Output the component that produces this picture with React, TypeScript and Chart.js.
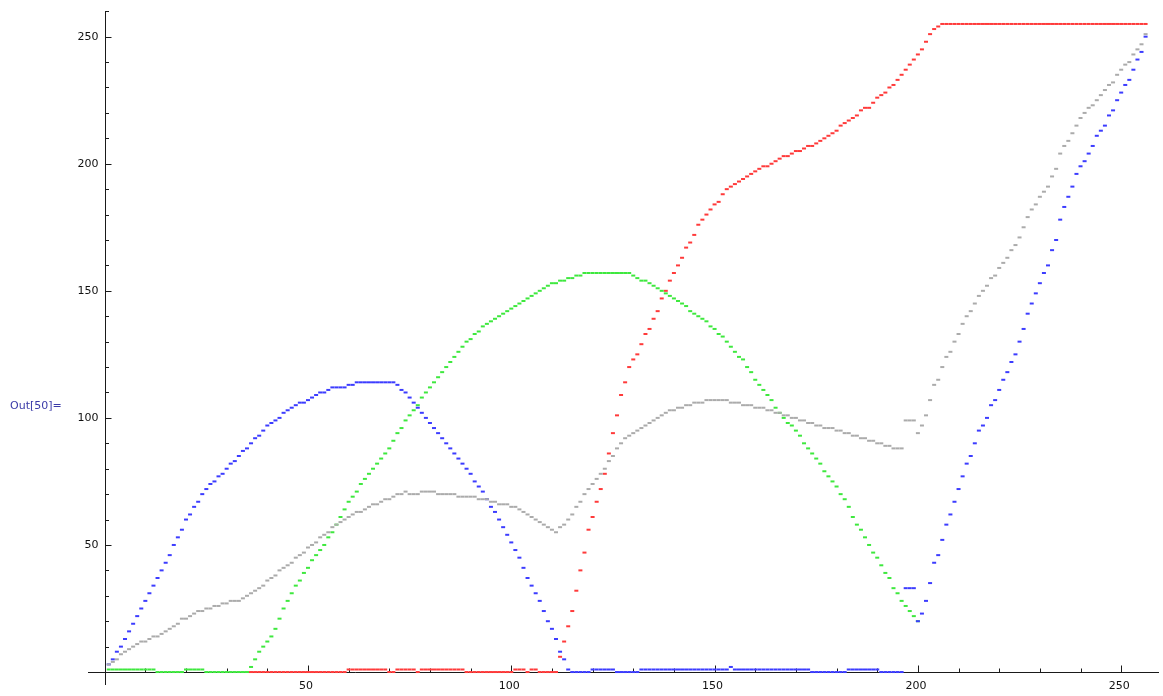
import React, { useEffect, useRef } from "react";
import { Chart, registerables } from "chart.js";

Chart.register(...registerables);

// sample index (1..256)
const indices: number[] = Array.from({ length: 256 }, (_, i) => i + 1);

const blueValues: number[] = [
  3, 5, 8, 10, 13, 16, 19, 22, 25, 28,
  31, 34, 37, 40, 43, 46, 50, 53, 56, 60,
  62, 65, 67, 70, 72, 74, 75, 77, 78, 80,
  82, 83, 85, 87, 88, 90, 92, 93, 95, 97,
  98, 99, 100, 102, 103, 104, 105, 106, 106, 107,
  108, 109, 110, 110, 111, 112, 112, 112, 112, 113,
  113, 114, 114, 114, 114, 114, 114, 114, 114, 114,
  114, 113, 111, 110, 108, 106, 104, 102, 100, 98,
  96, 94, 92, 90, 88, 86, 84, 82, 80, 78,
  75, 73, 71, 68, 65, 63, 60, 57, 54, 51,
  48, 45, 41, 37, 34, 31, 28, 24, 20, 17,
  13, 8, 5, 1, 0, 0, 0, 0, 0, 1,
  1, 1, 1, 1, 1, 0, 0, 0, 0, 0,
  0, 1, 1, 1, 1, 1, 1, 1, 1, 1,
  1, 1, 1, 1, 1, 1, 1, 1, 1, 1,
  1, 1, 1, 2, 1, 1, 1, 1, 1, 1,
  1, 1, 1, 1, 1, 1, 1, 1, 1, 1,
  1, 1, 1, 0, 0, 0, 0, 0, 0, 0,
  0, 0, 1, 1, 1, 1, 1, 1, 1, 1,
  0, 0, 0, 0, 0, 0, 33, 33, 33, 20,
  23, 28, 35, 43, 46, 52, 58, 62, 67, 72,
  77, 82, 85, 90, 95, 97, 100, 105, 107, 111,
  115, 118, 122, 125, 130, 135, 141, 145, 149, 153,
  157, 160, 166, 170, 178, 183, 187, 191, 196, 199,
  201, 204, 207, 211, 213, 215, 219, 221, 225, 228,
  231, 233, 237, 241, 244, 250,
];

const grayValues: number[] = [
  3, 4, 5, 7, 8, 9, 10, 11, 12, 12,
  13, 14, 14, 15, 16, 17, 18, 19, 21, 21,
  22, 23, 24, 24, 25, 25, 26, 26, 27, 27,
  28, 28, 28, 29, 30, 31, 32, 33, 34, 36,
  37, 38, 40, 41, 42, 43, 45, 46, 47, 49,
  50, 51, 53, 54, 55, 57, 58, 59, 60, 61,
  62, 63, 63, 64, 65, 66, 66, 67, 68, 68,
  69, 70, 70, 71, 70, 70, 70, 71, 71, 71,
  71, 70, 70, 70, 70, 70, 69, 69, 69, 69,
  69, 68, 68, 68, 67, 67, 66, 66, 66, 65,
  65, 64, 63, 62, 61, 60, 59, 58, 57, 56,
  55, 57, 58, 60, 62, 65, 67, 70, 72, 74,
  76, 78, 80, 83, 85, 88, 90, 92, 93, 94,
  95, 96, 97, 98, 99, 100, 101, 102, 103, 103,
  104, 104, 105, 105, 106, 106, 106, 107, 107, 107,
  107, 107, 107, 106, 106, 106, 105, 105, 105, 104,
  104, 104, 103, 103, 102, 102, 101, 101, 100, 100,
  99, 99, 98, 98, 97, 97, 96, 96, 96, 95,
  95, 94, 94, 93, 93, 92, 92, 91, 91, 90,
  90, 89, 89, 88, 88, 88, 99, 99, 99, 94,
  97, 101, 107, 113, 115, 120, 124, 126, 130, 133,
  137, 140, 142, 145, 148, 150, 152, 155, 156, 159,
  161, 163, 166, 168, 171, 175, 179, 182, 184, 187,
  189, 191, 195, 198, 204, 207, 209, 212, 215, 218,
  220, 222, 223, 225, 227, 229, 231, 232, 235, 237,
  239, 240, 243, 245, 247, 251,
];

// green channel only plotted for samples 1..200
const greenValues: number[] = [
  1, 1, 1, 1, 1, 1, 1, 1, 1, 1,
  1, 1, 0, 0, 0, 0, 0, 0, 0, 1,
  1, 1, 1, 1, 0, 0, 0, 0, 0, 0,
  0, 0, 0, 0, 0, 2, 5, 8, 10, 12,
  14, 17, 21, 25, 28, 31, 34, 36, 39, 41,
  44, 46, 48, 50, 53, 55, 58, 61, 64, 67,
  69, 71, 74, 76, 78, 80, 82, 84, 86, 88,
  91, 94, 96, 99, 101, 103, 105, 108, 110, 112,
  114, 116, 118, 120, 122, 124, 126, 128, 130, 131,
  133, 134, 136, 137, 138, 139, 140, 141, 142, 143,
  144, 145, 146, 147, 148, 149, 150, 151, 152, 153,
  153, 154, 154, 155, 155, 156, 156, 157, 157, 157,
  157, 157, 157, 157, 157, 157, 157, 157, 157, 156,
  155, 154, 154, 153, 152, 151, 150, 149, 148, 147,
  146, 145, 144, 142, 141, 140, 139, 138, 136, 135,
  133, 132, 130, 128, 126, 124, 123, 120, 118, 115,
  113, 111, 109, 107, 104, 102, 100, 98, 97, 95,
  93, 90, 88, 86, 84, 82, 79, 77, 75, 73,
  70, 68, 65, 61, 58, 56, 53, 50, 47, 45,
  42, 39, 37, 33, 31, 28, 26, 24, 22, 20,
];

const redValues: (number | null)[] = [
  null, null, null, null, null, null, null, null, null, null,
  null, null, null, null, null, null, null, null, null, null,
  null, null, null, null, null, null, null, null, null, null,
  null, null, null, null, null, 0, 0, 0, 0, 0,
  0, 0, 0, 0, 0, 0, 0, 0, 0, 0,
  0, 0, 0, 0, 0, 0, 0, 0, 0, 1,
  1, 1, 1, 1, 1, 1, 1, 1, 1, 0,
  0, 1, 1, 1, 1, 1, 0, 1, 1, 1,
  1, 1, 1, 1, 1, 1, 1, 1, 0, 0,
  0, 0, 0, 0, 0, 0, 0, 0, 0, 0,
  1, 1, 1, 0, 1, 1, 0, 0, 0, 0,
  0, 6, 12, 18, 24, 32, 40, 47, 56, 61,
  67, 72, 78, 86, 94, 101, 109, 114, 120, 123,
  125, 129, 133, 135, 139, 142, 147, 150, 154, 157,
  160, 163, 167, 169, 172, 176, 178, 180, 182, 184,
  185, 188, 190, 191, 192, 193, 194, 195, 196, 197,
  198, 199, 199, 200, 201, 202, 203, 203, 204, 205,
  205, 206, 207, 207, 208, 209, 210, 211, 212, 213,
  215, 216, 217, 218, 219, 221, 222, 222, 224, 226,
  227, 228, 230, 231, 233, 235, 237, 239, 241, 243,
  245, 248, 251, 253, 254, 255, 255, 255, 255, 255,
  255, 255, 255, 255, 255, 255, 255, 255, 255, 255,
  255, 255, 255, 255, 255, 255, 255, 255, 255, 255,
  255, 255, 255, 255, 255, 255, 255, 255, 255, 255,
  255, 255, 255, 255, 255, 255, 255, 255, 255, 255,
  255, 255, 255, 255, 255, 255,
];

const majorTicks: number[] = [50, 100, 150, 200, 250];
const xMinorTicks: number[] = [10, 20, 30, 40, 60, 70, 80, 90, 110, 120, 130, 140, 160, 170, 180, 190, 210, 220, 230, 240, 250];
const yMinorTicks: number[] = [10, 20, 30, 40, 60, 70, 80, 90, 110, 120, 130, 140, 160, 170, 180, 190, 210, 220, 230, 240, 260];
const tickLabels: string[] = ["50", "100", "150", "200", "250"];

const toPoints = (vals: (number | null)[]) =>
  vals.map((v, i) => ({ x: indices[i], y: v }));

const axesPlugin = {
  id: "mmaAxes",
  beforeDatasetsDraw(chart: any) {
    const { ctx } = chart;
    const xs = chart.scales.x;
    const ys = chart.scales.y;
    const x0 = Math.round(xs.getPixelForValue(0)) + 0.5;
    const y0 = Math.round(ys.getPixelForValue(0)) + 0.5;
    ctx.save();
    ctx.strokeStyle = "#1a1a1a";
    ctx.lineWidth = 1;
    ctx.beginPath();
    ctx.moveTo(xs.left, y0);
    ctx.lineTo(xs.right, y0);
    ctx.moveTo(x0, ys.top);
    ctx.lineTo(x0, ys.bottom);
    majorTicks.forEach((t) => {
      const px = Math.round(xs.getPixelForValue(t)) + 0.5;
      ctx.moveTo(px, y0);
      ctx.lineTo(px, y0 - 7);
    });
    xMinorTicks.forEach((t) => {
      const px = Math.round(xs.getPixelForValue(t)) + 0.5;
      ctx.moveTo(px, y0);
      ctx.lineTo(px, y0 - 4);
    });
    majorTicks.forEach((t) => {
      const py = Math.round(ys.getPixelForValue(t)) + 0.5;
      ctx.moveTo(x0, py);
      ctx.lineTo(x0 + 6, py);
    });
    yMinorTicks.forEach((t) => {
      const py = Math.round(ys.getPixelForValue(t)) + 0.5;
      ctx.moveTo(x0, py);
      ctx.lineTo(x0 + 3.5, py);
    });
    ctx.stroke();

    ctx.fillStyle = "#111";
    ctx.font = '11px "DejaVu Sans"';
    ctx.textAlign = "center";
    ctx.textBaseline = "top";
    majorTicks.forEach((t, i) => {
      ctx.fillText(tickLabels[i], xs.getPixelForValue(t) - 2, y0 + 8);
    });
    ctx.textAlign = "right";
    ctx.textBaseline = "middle";
    majorTicks.forEach((t, i) => {
      ctx.fillText(tickLabels[i], x0 - 7, ys.getPixelForValue(t));
    });
    ctx.restore();
  },
};

const dash = (color: string) => ({
  showLine: false,
  pointStyle: "line" as const,
  pointRadius: 2,
  pointHoverRadius: 2,
  pointBorderWidth: 2,
  pointBorderColor: color,
  pointBackgroundColor: color,
  borderColor: color,
  backgroundColor: color,
  clip: false as any,
});

export default function App() {
  const ref = useRef<HTMLCanvasElement | null>(null);

  useEffect(() => {
    if (!ref.current) return;
    const chart = new Chart(ref.current, {
      type: "scatter",
      data: {
        datasets: [
          { label: "gray", data: toPoints(grayValues), ...dash("#ababab") },
          { label: "blue", data: toPoints(blueValues), ...dash("#3c3cff") },
          { label: "green", data: toPoints(greenValues), ...dash("#3ee83e") },
          { label: "red", data: toPoints(redValues), ...dash("#ff3a3a") },
        ] as any,
      },
      options: {
        responsive: false,
        animation: false,
        events: [],
        layout: { padding: { left: 88, right: 0, top: 11, bottom: 11 } },
        plugins: {
          legend: { display: false },
          tooltip: { enabled: false },
          title: { display: false },
        },
        scales: {
          x: { type: "linear", min: -4.1, max: 259.3, display: false },
          y: { type: "linear", min: -5.1, max: 260.1, display: false },
        },
      },
      plugins: [axesPlugin],
    });
    return () => chart.destroy();
  }, []);

  return (
    <div style={{ position: "fixed", left: 0, top: 0, width: 1163, height: 696, background: "#fff" }}>
      <canvas ref={ref} width={1163} height={696} style={{ position: "absolute", left: 0, top: 0 }} />
      <div
        style={{
          position: "absolute",
          left: 10,
          top: 399,
          font: '11px "DejaVu Sans"',
          color: "#3a3aa8",
          whiteSpace: "nowrap",
        }}
      >
        Out[50]=
      </div>
    </div>
  );
}
